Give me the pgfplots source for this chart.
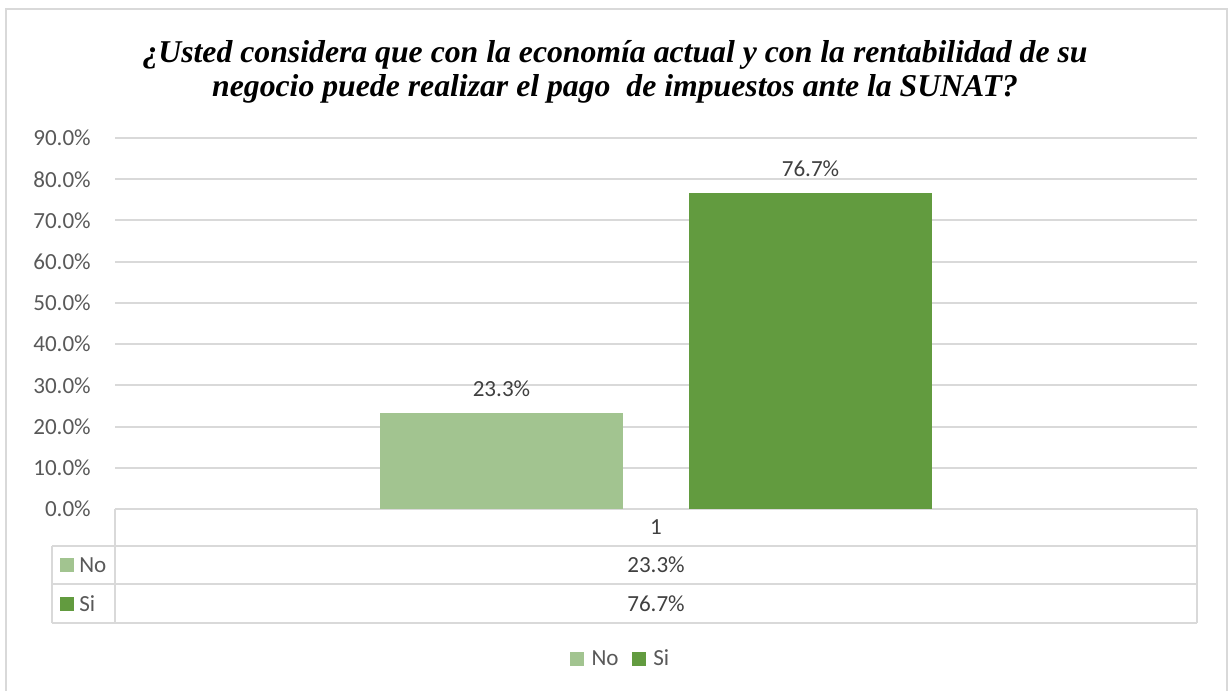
\documentclass[border=0pt]{standalone}
\usepackage{fontspec}
\setmainfont{Carlito}
\newfontfamily\titlefont{Liberation Serif}
\usepackage{pgfplots}
\pgfplotsset{compat=1.18}
\definecolor{lg}{HTML}{A2C490}
\definecolor{dg}{HTML}{629B3F}
\definecolor{gridc}{HTML}{D9D9D9}
\definecolor{txt}{HTML}{595959}
\definecolor{lbl}{HTML}{404040}
\begin{document}
\begin{tikzpicture}[x=0.75pt,y=-0.75pt]
\path[use as bounding box] (0,0) rectangle (1232,691);
\draw[gridc, line width=1.5pt] (6,691) -- (6,9) -- (1227,9) -- (1227,691);
\node[font=\titlefont\bfseries\itshape\fontsize{23.8}{27}\selectfont, anchor=base] at (615,63) {¿Usted considera que con la economía actual y con la rentabilidad de su};
\node[font=\titlefont\bfseries\itshape\fontsize{23.8}{27}\selectfont, anchor=base] at (615,97) {negocio puede realizar el pago\ \ de impuestos ante la SUNAT?};
\begin{axis}[
  at={(86.25pt,-381.75pt)}, anchor=south west,
  scale only axis, width=811.5pt, height=278.25pt,
  xmin=0, xmax=2, ymin=0, ymax=90,
  ytick={0,10,...,90}, xtick=\empty,
  ymajorgrids, grid style={gridc, line width=1.5pt},
  axis line style={draw=none}, tick style={draw=none},
  clip=false,
  /pgf/number format/assume math mode=true,
  yticklabel={\pgfmathprintnumber[fixed,fixed zerofill,precision=1]{\tick}\%},
  yticklabel style={font=\fontsize{17.3}{20}\selectfont, text=txt, inner sep=0pt, anchor=east, xshift=-18pt},
  nodes near coords={\pgfmathprintnumber[fixed,fixed zerofill,precision=1]{\pgfplotspointmeta}\%},
  nodes near coords style={font=\fontsize{17.3}{20}\selectfont, text=lbl, inner sep=0pt, anchor=south, yshift=12pt},
  legend style={at={(0.4677,-0.4043)}, anchor=center, draw=none, legend columns=2,
     font=\fontsize{17.3}{20}\selectfont, text=txt,
     /tikz/every even column/.append style={column sep=8pt}},
  legend image code/.code={\fill[#1] (0pt,-5.25pt) rectangle (10.5pt,5.25pt); \path (14pt,0pt);},
]
\addplot[ybar, bar width=182.25pt, fill=lg, draw=none] coordinates {(0.7144,23.3)};
\addlegendentry{No}
\addplot[ybar, bar width=182.25pt, fill=dg, draw=none] coordinates {(1.2856,76.7)};
\addlegendentry{Si}
\end{axis}
\draw[gridc, line width=1.5pt] (115,509) -- (115,623);
\draw[gridc, line width=1.5pt] (1197,509) -- (1197,623);
\draw[gridc, line width=1.5pt] (52,546) -- (1197,546);
\draw[gridc, line width=1.5pt] (52,584) -- (1197,584);
\draw[gridc, line width=1.5pt] (52,623) -- (1197,623);
\draw[gridc, line width=1.5pt] (52,546) -- (52,623);
\begin{scope}[every node/.style={font=\fontsize{17.3}{20}\selectfont, text=lbl}]
\node at (656,527) {1};
\node at (656,565) {23.3\%};
\node at (656,604) {76.7\%};
\fill[lg] (60,558) rectangle (74,572);
\fill[dg] (60,597) rectangle (74,611);
\node[anchor=west, inner sep=0pt, text=txt] at (79,565) {No};
\node[anchor=west, inner sep=0pt, text=txt] at (79,604) {Si};
\end{scope}
\end{tikzpicture}
\end{document}
